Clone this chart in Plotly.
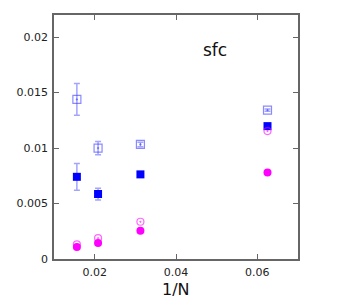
import plotly.graph_objects as go

inv_n = [1/64, 1/48, 1/32, 1/16]

open_sq = [0.01439, 0.0100, 0.01033, 0.01342]
open_sq_err = [0.00143, 0.0006, 0.0002, 0.0001]
filled_sq = [0.00741, 0.00586, 0.00763, 0.01198]
filled_sq_err = [0.0012, 0.00053, 0.0, 0.0]
open_circ = [0.00132, 0.00188, 0.00336, 0.01153]
filled_circ = [0.00108, 0.00144, 0.00255, 0.00781]

x_ticks = [0.02, 0.04, 0.06]
x_tick_text = ["0.02", "0.04", "0.06"]
y_ticks = [0, 0.005, 0.01, 0.015, 0.02]
y_tick_text = ["0", "0.005", "0.01", "0.015", "0.02"]

fig = go.Figure()
fig.add_trace(go.Scatter(
    x=inv_n, y=open_sq, mode="markers",
    marker=dict(symbol="square-open-dot", size=8, color="rgba(60,60,255,0.6)", line=dict(width=1.2)),
    error_y=dict(type="data", array=open_sq_err, visible=True, color="rgba(90,90,255,0.55)", thickness=1.5, width=3),
))
fig.add_trace(go.Scatter(
    x=inv_n, y=filled_sq, mode="markers",
    marker=dict(symbol="square", size=8, color="#0000ff"),
    error_y=dict(type="data", array=filled_sq_err, visible=True, color="rgba(90,90,255,0.55)", thickness=1.5, width=3),
))
fig.add_trace(go.Scatter(
    x=inv_n, y=open_circ, mode="markers",
    marker=dict(symbol="circle-open-dot", size=7, color="rgba(255,0,255,0.6)", line=dict(width=1.2)),
))
fig.add_trace(go.Scatter(
    x=inv_n, y=filled_circ, mode="markers",
    marker=dict(symbol="circle", size=8, color="#ff00ff"),
))

axis_common = dict(
    showgrid=False, zeroline=False, showline=True, linecolor="#666666", linewidth=1.5,
    mirror="ticks", ticks="inside", ticklen=5, tickcolor="#666666", tickwidth=1,
    tickfont=dict(family="DejaVu Sans", size=11, color="#222222"),
    automargin=False,
)
fig.update_xaxes(range=[0.01, 0.07], tickvals=x_ticks, ticktext=x_tick_text,
                 ticklabelstandoff=2, **axis_common)
fig.update_yaxes(range=[0, 0.022], tickvals=y_ticks, ticktext=y_tick_text,
                 ticklabelstandoff=2, **axis_common)

fig.add_annotation(x=0.5, y=-0.125, xref="paper", yref="paper", text="1/N", showarrow=False,
                   yanchor="middle", font=dict(family="DejaVu Sans", size=16, color="#111111"))
fig.add_annotation(x=0.0496, y=0.0188, xref="x", yref="y", text="sfc", showarrow=False,
                   font=dict(family="DejaVu Sans", size=17, color="#111111"))

fig.update_layout(
    width=351, height=300, showlegend=False,
    margin=dict(l=54, r=53, t=15, b=41),
    plot_bgcolor="white", paper_bgcolor="white",
)
fig.write_html("out.html", config={"displayModeBar": False},
               post_script="document.body.style.margin='0';")
